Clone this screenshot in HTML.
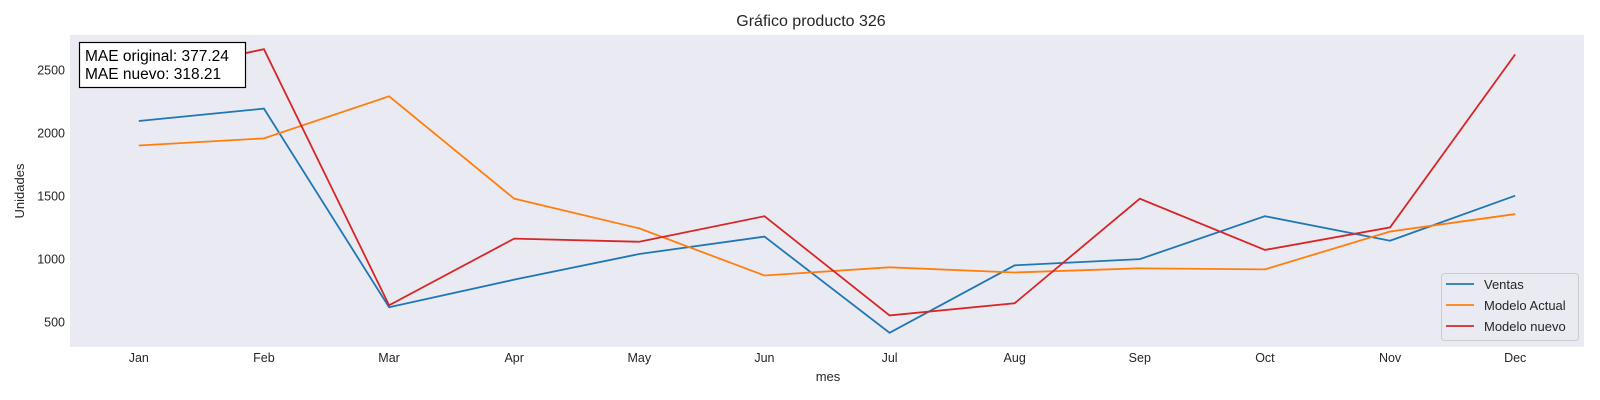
<!DOCTYPE html>
<html><head><meta charset="utf-8">
<style>
body{margin:0;background:#fff;}
svg{display:block;font-family:"Liberation Sans",Arial,sans-serif;}
</style></head>
<body>
<svg id="chart" width="1600" height="400" xmlns="http://www.w3.org/2000/svg">
<rect x="0" y="0" width="1600" height="400" fill="#fff"/>
<rect x="70" y="35" width="1514" height="312" fill="#eaeaf2"/>
<text x="811" y="26" text-anchor="middle" font-size="16" fill="#262626">Gráfico producto 326</text>
<text x="828" y="381" text-anchor="middle" font-size="13" fill="#262626">mes</text>
<text x="24" y="191" text-anchor="middle" font-size="13" fill="#262626" transform="rotate(-90 24 191)">Unidades</text>
<g id="xticks"></g><g id="yticks"></g><g id="lines"></g>
<g>
<rect x="79.5" y="42.5" width="166" height="45" fill="#fff" stroke="#000" stroke-width="1.2"/>
<text x="85" y="61" font-size="15.5" fill="#000">MAE original: 377.24</text>
<text x="85" y="79" font-size="15.5" fill="#000">MAE nuevo: 318.21</text>
</g>
<g>
<rect x="1441.5" y="273.5" width="137" height="67" rx="3" fill="#eaeaf2" stroke="#cccccc" fill-opacity="0.8"/>
<line x1="1446" y1="284" x2="1474" y2="284" stroke="#1f77b4" stroke-width="1.8"/>
<text x="1484" y="289" font-size="13" fill="#262626">Ventas</text>
<line x1="1446" y1="305" x2="1474" y2="305" stroke="#ff7f0e" stroke-width="1.8"/>
<text x="1484" y="310" font-size="13" fill="#262626">Modelo Actual</text>
<line x1="1446" y1="326" x2="1474" y2="326" stroke="#d62728" stroke-width="1.8"/>
<text x="1484" y="331" font-size="13" fill="#262626">Modelo nuevo</text>
</g>
</svg>
<script>
const months = ["Jan","Feb","Mar","Apr","May","Jun","Jul","Aug","Sep","Oct","Nov","Dec"];
const ventas = [2093,2191,614,833,1037,1175,411,947,996,1337,1142,1500];
const modeloActual = [1898,1955,2289,1476,1240,866,931,890,923,915,1215,1354];
const modeloNuevo = [2450,2663,630,1159,1134,1337,549,646,1476,1069,1248,2622];
const yTicks = [500,1000,1500,2000,2500];

const NS="http://www.w3.org/2000/svg";
const L=70,R=1584,T=35,B=347;
const n=months.length;
function xs(i){const u=(R-L)/((n-1)*1.1);return L+u*(n-1)*0.05+u*i;}
const all=ventas.concat(modeloActual,modeloNuevo);
const mn=Math.min(...all),mx=Math.max(...all),pad=(mx-mn)*0.05;
const y0=mn-pad,y1=mx+pad;
function ys(v){return B-(v-y0)/(y1-y0)*(B-T);}
const xg=document.getElementById('xticks');
months.forEach((m,i)=>{
 const t=document.createElementNS(NS,'text');
 t.setAttribute('x',xs(i));t.setAttribute('y',362);
 t.setAttribute('text-anchor','middle');t.setAttribute('font-size','12.5');t.setAttribute('fill','#262626');
 t.textContent=m;
 
 
 xg.appendChild(t);
});
const yg=document.getElementById('yticks');
yTicks.forEach(v=>{
 const t=document.createElementNS(NS,'text');
 t.setAttribute('x',65);t.setAttribute('y',ys(v)+5);
 t.setAttribute('text-anchor','end');t.setAttribute('font-size','12.5');t.setAttribute('fill','#262626');
 t.textContent=v;
 
 
 yg.appendChild(t);
});
const lg=document.getElementById('lines');
[[ventas,'#1f77b4','ventas-line'],[modeloActual,'#ff7f0e','modelo-actual-line'],[modeloNuevo,'#d62728','modelo-nuevo-line']].forEach(([d,c,name])=>{
 const p=document.createElementNS(NS,'polyline');
 p.setAttribute('points',d.map((v,i)=>xs(i)+','+ys(v)).join(' '));
 p.setAttribute('fill','none');p.setAttribute('stroke',c);p.setAttribute('stroke-width','1.8');
 
 
 lg.appendChild(p);
});
</script>
</body></html>
